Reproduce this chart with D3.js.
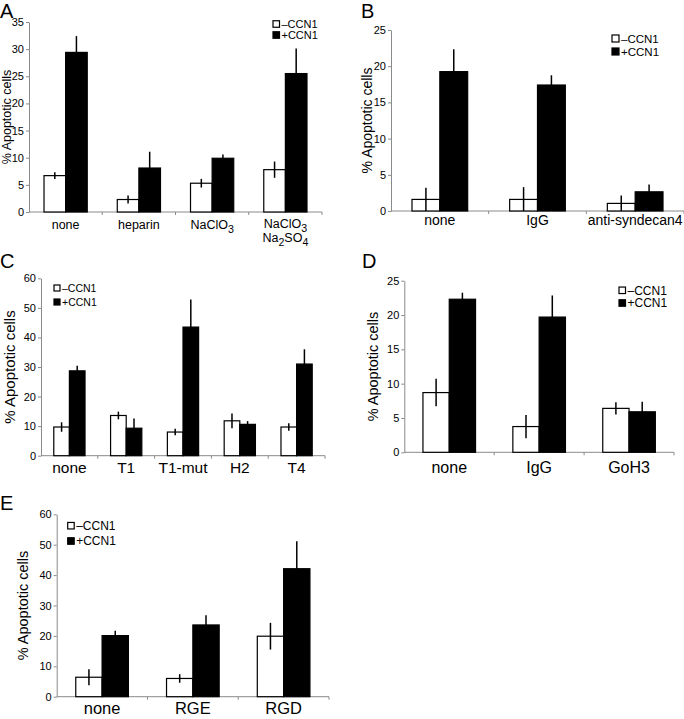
<!DOCTYPE html>
<html>
<head>
<meta charset="utf-8">
<script src="https://cdn.jsdelivr.net/npm/d3@7"></script>
<style>
  html, body { margin: 0; padding: 0; background: #fff; }
  svg { display: block; }
  text { font-family: "Liberation Sans", Arial, sans-serif; }
</style>
</head>
<body>
<svg id="chart" width="684" height="719"></svg>
<script>
// ---------------- DATA ----------------
const seriesNames = ["–CCN1", "+CCN1"];
const yLabel = "% Apoptotic cells";

// Panel A
const catsA = ["none", "heparin", "NaClO_3", "NaClO_3\nNa_2SO_4"];
const minusA = [6.7, 2.3, 5.3, 7.8];
const minusErrA = [0.6, 0.75, 0.8, 1.5];
const plusA = [29.4, 8.1, 9.9, 25.5];
const plusErrA = [3.0, 3.0, 0.7, 4.6];
const ticksA = [0, 5, 10, 15, 20, 25, 30, 35];

// Panel B
const catsB = ["none", "IgG", "anti-syndecan4"];
const minusB = [1.6, 1.6, 1.05];
const minusErrB = [1.6, 1.7, 1.1];
const plusB = [19.25, 17.4, 2.65];
const plusErrB = [3.1, 1.35, 1.0];
const ticksB = [0, 5, 10, 15, 20, 25];

// Panel C
const catsC = ["none", "T1", "T1-mut", "H2", "T4"];
const minusC = [9.7, 13.6, 8.0, 11.8, 9.7];
const minusErrC = [1.6, 1.3, 1.1, 2.5, 1.3];
const plusC = [28.7, 9.3, 43.5, 10.6, 31.0];
const plusErrC = [1.7, 3.3, 9.3, 1.1, 5.0];
const ticksC = [0, 10, 20, 30, 40, 50, 60];

// Panel D
const catsD = ["none", "IgG", "GoH3"];
const minusD = [8.7, 3.75, 6.4];
const minusErrD = [2.0, 1.7, 0.9];
const plusD = [22.3, 19.7, 5.9];
const plusErrD = [0.95, 3.15, 1.45];
const ticksD = [0, 5, 10, 15, 20, 25];

// Panel E
const catsE = ["none", "RGE", "RGD"];
const minusE = [6.4, 6.0, 19.9];
const minusErrE = [2.6, 1.4, 4.4];
const plusE = [20.1, 23.6, 42.1];
const plusErrE = [1.6, 3.2, 9.0];
const ticksE = [0, 10, 20, 30, 40, 50, 60];

// ---------------- LAYOUT ----------------
const panels = [
  { letter: "A", lx: 0, ly: 18, cats: catsA, minus: minusA, minusErr: minusErrA, plus: plusA, plusErr: plusErrA, ticks: ticksA,
    x0: 29, x1: 322, yb: 212, yt: 22, pad: 0.41, catFs: 12.5, catDy: 17, lineH: 14, labX: 6.5, labFs: 12.5,
    legX: 273, legY: 24, legGap: 11, legFs: 11, sq: 6.5 },
  { letter: "B", lx: 361, ly: 18, cats: catsB, minus: minusB, minusErr: minusErrB, plus: plusB, plusErr: plusErrB, ticks: ticksB,
    x0: 391, x1: 684, yb: 211, yt: 30, pad: 0.43, catFs: 14, catDy: 14, lineH: 14, labX: 367, labFs: 14,
    legX: 612, legY: 38.5, legGap: 13, legFs: 11.5, sq: 7 },
  { letter: "C", lx: 0, ly: 268, cats: catsC, minus: minusC, minusErr: minusErrC, plus: plusC, plusErr: plusErrC, ticks: ticksC,
    x0: 41, x1: 325, yb: 455.7, yt: 278.3, pad: 0.45, catFs: 15.5, catDy: 17, lineH: 14, labX: 9.5, labFs: 15,
    legX: 54, legY: 288, legGap: 14, legFs: 10.5, sq: 6 },
  { letter: "D", lx: 362, ly: 268, cats: catsD, minus: minusD, minusErr: minusErrD, plus: plusD, plusErr: plusErrD, ticks: ticksD,
    x0: 404.3, x1: 674, yb: 452.3, yt: 280.7, pad: 0.415, catFs: 16, catDy: 21, lineH: 14, labX: 373, labFs: 14.5,
    legX: 619, legY: 290.3, legGap: 12.7, legFs: 12, sq: 6.5 },
  { letter: "E", lx: 0, ly: 510, cats: catsE, minus: minusE, minusErr: minusErrE, plus: plusE, plusErr: plusErrE, ticks: ticksE,
    x0: 56.7, x1: 329, yb: 696.7, yt: 514.3, pad: 0.42, catFs: 16.5, catDy: 17.5, lineH: 14, labX: 22.5, labFs: 14.5,
    legX: 67.7, legY: 525.7, legGap: 15.3, legFs: 12, sq: 6.5 }
];

const svg = d3.select("#chart");
const axisColor = "#8a8a8a";

function writeLabel(textSel, str, fs) {
  const parts = str.split(/_(\d)/);
  parts.forEach((p, pi) => {
    if (p === "") return;
    const ts = textSel.append("tspan").text(p);
    if (pi % 2 === 1) {
      ts.attr("dy", fs * 0.3).attr("font-size", fs * 0.85);
    } else if (pi > 0) {
      ts.attr("dy", -fs * 0.3);
    }
  });
}

function drawPanel(cfg) {
  const g = svg.append("g");
  const n = cfg.cats.length;
  const x = d3.scaleBand().domain(cfg.cats).range([cfg.x0, cfg.x1])
    .paddingInner(cfg.pad).paddingOuter(cfg.pad / 2);
  const y = d3.scaleLinear().domain([0, d3.max(cfg.ticks)]).range([cfg.yb, cfg.yt]);
  const bw = x.bandwidth() / 2;

  // panel letter
  g.append("text").attr("x", cfg.lx).attr("y", cfg.ly)
    .attr("font-size", 20).attr("fill", "#000").text(cfg.letter);

  // y axis
  const ax = g.append("g").attr("transform", `translate(${cfg.x0},0)`)
    .call(d3.axisLeft(y).tickValues(cfg.ticks).tickSize(3).tickSizeOuter(0).tickPadding(2));
  ax.select(".domain").attr("stroke", axisColor);
  ax.selectAll(".tick line").attr("stroke", axisColor);
  ax.selectAll(".tick text").attr("font-size", 11).attr("fill", "#000")
    .attr("font-family", "'Liberation Sans', Arial, sans-serif");

  // x axis line + band ticks
  g.append("line").attr("x1", cfg.x0).attr("x2", cfg.x1)
    .attr("y1", y(0)).attr("y2", y(0)).attr("stroke", axisColor).attr("stroke-width", 1);
  const step = x.step();
  d3.range(1, n + 1).forEach(i => {
    const bx = cfg.x0 + i * step;
    g.append("line").attr("x1", bx).attr("x2", bx).attr("y1", y(0)).attr("y2", y(0) + 3)
      .attr("stroke", axisColor);
  });

  // bars
  const rows = cfg.cats.map((c, i) => ({ c, m: cfg.minus[i], me: cfg.minusErr[i], p: cfg.plus[i], pe: cfg.plusErr[i] }));
  const grp = g.selectAll("g.cat").data(rows).join("g").attr("class", "cat");
  grp.append("rect").attr("x", d => x(d.c)).attr("y", d => y(d.m))
    .attr("width", bw).attr("height", d => y(0) - y(d.m))
    .attr("fill", "#fff").attr("stroke", "#000").attr("stroke-width", 1.2);
  grp.append("rect").attr("x", d => x(d.c) + bw).attr("y", d => y(d.p))
    .attr("width", bw).attr("height", d => y(0) - y(d.p))
    .attr("fill", "#000").attr("stroke", "#000").attr("stroke-width", 1.2);
  // error bars
  grp.append("line").attr("x1", d => x(d.c) + bw / 2).attr("x2", d => x(d.c) + bw / 2)
    .attr("y1", d => y(Math.max(0, d.m - d.me))).attr("y2", d => y(d.m + d.me))
    .attr("stroke", "#000").attr("stroke-width", 1.5);
  grp.append("line").attr("x1", d => x(d.c) + 1.5 * bw).attr("x2", d => x(d.c) + 1.5 * bw)
    .attr("y1", d => y(Math.max(0, d.p - d.pe))).attr("y2", d => y(d.p + d.pe))
    .attr("stroke", "#000").attr("stroke-width", 1.5);

  // category labels
  rows.forEach(d => {
    const lines = d.c.split("\n");
    lines.forEach((line, li) => {
      const t = g.append("text").attr("x", x(d.c) + x.bandwidth() / 2)
        .attr("y", y(0) + cfg.catDy + li * cfg.lineH - (lines.length > 1 ? 1 : 0))
        .attr("text-anchor", "middle").attr("font-size", cfg.catFs).attr("fill", "#000");
      writeLabel(t, line, cfg.catFs);
    });
  });

  // y label
  const ym = (cfg.yb + cfg.yt) / 2;
  g.append("text").attr("transform", `translate(${cfg.labX},${ym}) rotate(-90)`)
    .attr("text-anchor", "middle").attr("dy", "0.35em")
    .attr("font-size", cfg.labFs).attr("fill", "#000").text(yLabel);

  // legend
  seriesNames.forEach((s, i) => {
    const cy = cfg.legY + i * cfg.legGap;
    g.append("rect").attr("x", cfg.legX).attr("y", cy - cfg.sq / 2)
      .attr("width", cfg.sq).attr("height", cfg.sq)
      .attr("fill", i === 0 ? "#fff" : "#000").attr("stroke", "#000").attr("stroke-width", 1.2);
    g.append("text").attr("x", cfg.legX + cfg.sq + 2).attr("y", cy).attr("dy", "0.36em")
      .attr("font-size", cfg.legFs).attr("fill", "#000").text(s);
  });
}

panels.forEach(drawPanel);
</script>
</body>
</html>
